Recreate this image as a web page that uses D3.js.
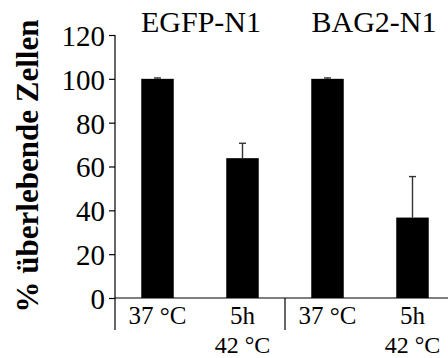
<!DOCTYPE html>
<html><head><meta charset="utf-8">
<script src="https://cdn.jsdelivr.net/npm/d3@7"></script>
<style>body{margin:0;background:#fff}svg{display:block}text{font-family:"Liberation Serif","Times New Roman",serif}</style>
</head><body>
<svg id="c" width="448" height="358"></svg>
<script>
const categories = ["EGFP 37", "EGFP 42", "BAG2 37", "BAG2 42"];
const values = [100, 63.8, 100, 36.7];
const errors = [0.4, 6.8, 0.4, 18.7];
const groupTitles = ["EGFP-N1", "BAG2-N1"];
const xLabelLine1 = ["37 °C", "5h", "37 °C", "5h"];
const xLabelLine2 = ["", "42 °C", "", "42 °C"];
const yTicks = [0, 20, 40, 60, 80, 100, 120];

const svg = d3.select("#c");
const font = '"Liberation Serif", "Times New Roman", serif';
const y = d3.scaleLinear().domain([0, 120]).range([298, 35]);
const x = d3.scalePoint().domain(categories).range([115, 455]).padding(0.5);
const barW = 32.5;

// bars
svg.selectAll("rect.bar").data(values).join("rect")
  .attr("x", (d, i) => x(categories[i]) - barW / 2)
  .attr("y", d => y(d))
  .attr("width", barW)
  .attr("height", d => y(0) - y(d))
  .attr("fill", "#000");

// error bars (upper only)
const eg = svg.append("g").attr("stroke", "#333").attr("stroke-width", 1.4);
values.forEach((v, i) => {
  const cx = x(categories[i]);
  eg.append("line").attr("x1", cx).attr("x2", cx).attr("y1", y(v)).attr("y2", y(v + errors[i]));
  eg.append("line").attr("x1", cx - 3.5).attr("x2", cx + 3.5).attr("y1", y(v + errors[i])).attr("y2", y(v + errors[i]));
});

// y axis
const ya = svg.append("g").attr("transform", "translate(115,0)")
  .call(d3.axisLeft(y).tickValues(yTicks).tickSize(6).tickPadding(4));
ya.attr("font-family", null).attr("font-size", null);
ya.select(".domain").remove();
ya.selectAll(".tick line").attr("stroke", "#000").attr("stroke-width", 1.2);
ya.selectAll(".tick text").style("font-family", font).style("font-size", "29px").attr("fill", "#000").attr("dy", "0.36em");
svg.append("line").attr("x1", 115).attr("x2", 115).attr("y1", y(120)).attr("y2", 330)
  .attr("stroke", "#000").attr("stroke-width", 1.2);

// x axis line and separator
svg.append("line").attr("x1", 115).attr("x2", 448).attr("y1", y(0)).attr("y2", y(0))
  .attr("stroke", "#000").attr("stroke-width", 1.2);
const sepX = (x(categories[1]) + x(categories[2])) / 2;
svg.append("line").attr("x1", sepX).attr("x2", sepX).attr("y1", y(0)).attr("y2", 330)
  .attr("stroke", "#000").attr("stroke-width", 1.2);

// x labels
svg.selectAll("text.xl1").data(xLabelLine1).join("text")
  .attr("x", (d, i) => x(categories[i])).attr("y", 324)
  .attr("text-anchor", "middle").style("font-family", font).style("font-size", "25px")
  .text(d => d);
svg.selectAll("text.xl2").data(xLabelLine2).join("text")
  .attr("x", (d, i) => x(categories[i])).attr("y", 353)
  .attr("text-anchor", "middle").style("font-family", font).style("font-size", "24px")
  .text(d => d);

// group titles
groupTitles.forEach((t, g) => {
  const cx = (x(categories[g * 2]) + x(categories[g * 2 + 1])) / 2 + (g === 1 ? 4 : 1);
  svg.append("text").attr("x", cx).attr("y", 32).attr("text-anchor", "middle")
    .style("font-family", font).style("font-size", "30px").text(t);
});

// y title
svg.append("text").attr("transform", "translate(38,166) rotate(-90)")
  .attr("text-anchor", "middle").style("font-family", font).style("font-size", "31px")
  .style("font-weight", "bold").text("% überlebende Zellen");
</script>
</body></html>
